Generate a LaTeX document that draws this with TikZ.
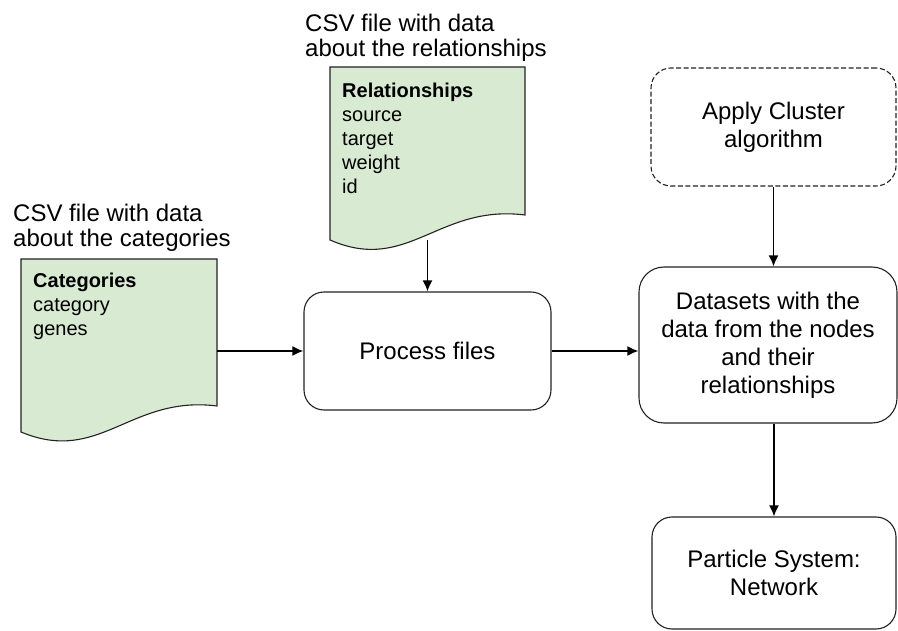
\documentclass[tikz,border=0pt]{standalone}
\usepackage{fontspec}
\setmainfont{Liberation Sans}
\usetikzlibrary{positioning, arrows.meta}

\definecolor{csvgreen}{HTML}{D9EAD3}
\definecolor{edgegray}{HTML}{222222}

\tikzset{
  stepbox/.style={draw=edgegray, line width=1.1pt, rounded corners=20pt, align=center,
    inner sep=0pt, font=\fontsize{24}{28}\selectfont},
  csvdoc/.style={draw=edgegray, fill=csvgreen, line width=1.1pt},
  csvtitle/.style={anchor=north west, align=left, inner sep=0pt, font=\fontsize{24}{25}\selectfont},
  csvfields/.style={anchor=north west, align=left, inner sep=0pt, font=\fontsize{20}{24}\selectfont},
  conn/.style={-{Latex[length=11pt,width=10pt]}, line width=1.7pt},
}

\begin{document}
\begin{tikzpicture}[x=1pt, y=-1pt]
    \useasboundingbox (0,0) rectangle (898,631);

    % CSV documents
    \draw[csvdoc] (21,259) -- (217,259) -- (217,406) .. controls (130,395) and (100,465) .. (21,432) -- cycle;
    \draw[csvdoc] (330,67) -- (525,67) -- (525,215) .. controls (438,204) and (408,274) .. (330,240) -- cycle;

    \node[csvtitle] (cattitle) at (13,204) {CSV file with data\\about the categories};
    \node[csvtitle] (reltitle) at (305,14) {CSV file with data\\about the relationships};

    \node[csvfields] (catfields) at (33,273) {\textbf{Categories}\\category\\genes};
    \node[csvfields] (relfields) at (342,83) {\textbf{Relationships}\\source\\target\\weight\\id};

    % Steps
    \node[stepbox, minimum width=247pt, minimum height=118pt] (proc) at (427.5,351) {Process files};
    \node[stepbox, minimum width=258pt, minimum height=156pt, rounded corners=25pt] (data) at (768,345)
      {Datasets with the\\data from the nodes\\and their\\relationships};
    \node[stepbox, dash pattern=on 5pt off 2.5pt, minimum width=245pt, minimum height=118pt] (clust) at (773.5,127)
      {Apply Cluster\\algorithm};
    \node[stepbox, minimum width=244pt, minimum height=112pt] (part) at (774,573) {Particle System:\\Network};

    % Connectors
    \coordinate (catout) at (217,351);
    \coordinate (relout) at (427.5,240);
    \draw[conn] (catout) -- (proc.west);
    \draw[conn] (relout) -- (proc.north);
    \draw[conn] (proc.east) -- (proc.east -| data.west);
    \draw[conn] (clust.south) -- (clust.south |- data.north);
    \draw[conn] (part.north |- data.south) -- (part.north);

\end{tikzpicture}
\end{document}
